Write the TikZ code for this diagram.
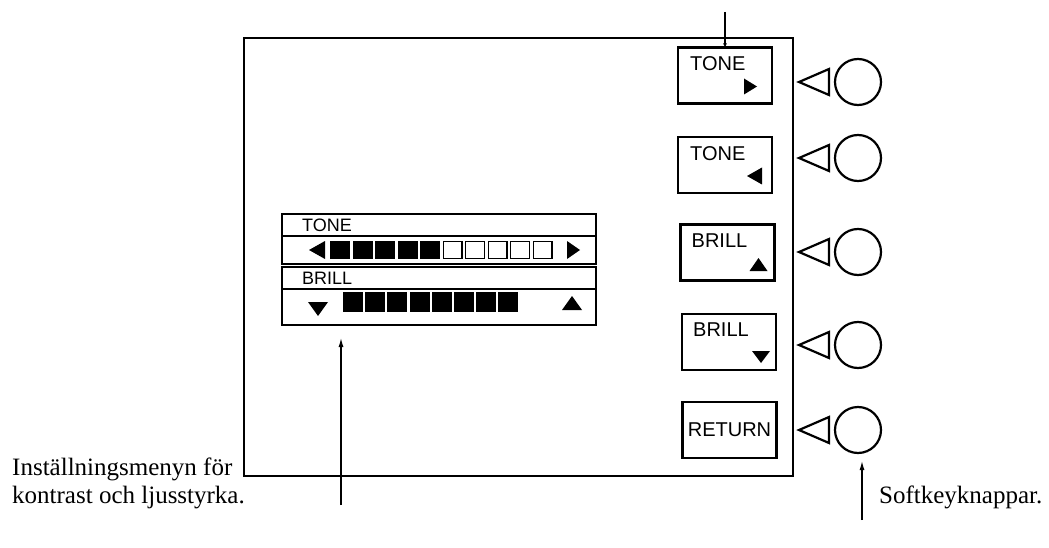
\documentclass[tikz,border=0pt]{standalone}
\usepackage{fontspec}
\setmainfont{Liberation Serif}
\setsansfont{Liberation Sans}
\usepackage{tikz}
\usetikzlibrary{
  arrows.meta,
  positioning
}
\tikzset{
    frameline/.style={line width=2.8pt},
    softkey/.style={draw, line width=2.8pt, minimum width=94pt, minimum height=56pt, inner sep=0pt, outer sep=0pt},
    keylabel/.style={font=\sffamily\fontsize{20}{22}\selectfont, inner sep=0pt, anchor=north west},
    knob/.style={draw, circle, line width=2.2pt, minimum size=46pt, inner sep=0pt, outer sep=0pt},
    menurow/.style={draw, line width=2.2pt, minimum width=314pt, inner sep=0pt, outer sep=0pt},
    menulabel/.style={font=\sffamily\fontsize{18}{20}\selectfont, inner sep=0pt, anchor=west},
    pointer/.style={line width=1.2pt, -{Latex[length=9pt,width=5pt]}},
    caption/.style={font=\fontsize{25}{28}\selectfont, inner sep=0pt, align=left}
}

\begin{document}
\begin{tikzpicture}[x=1pt, y=-1pt]
            \useasboundingbox (0,0) rectangle (1049,548);
            % screen frame
            \node[draw, frameline, minimum width=549pt, minimum height=438pt, inner sep=0pt] (screen) at (518.5,257) {};

            % softkey labels on the screen
            \node[softkey] (toneup) at (725,75.5) {};
            \node[softkey] (tonedown) at (725,165) {};
            \node[softkey] (brillup) at (727.5,252.5) {};
            \node[softkey] (brilldown) at (729,342) {};
            \node[softkey, font=\sffamily\fontsize{20}{22}\selectfont] (return) at (729.5,430) {RETURN};
            \node[keylabel] at ([shift={(12,9)}]toneup.north west) {TONE};
            \node[keylabel] at ([shift={(12,9)}]tonedown.north west) {TONE};
            \node[keylabel] at ([shift={(11,9)}]brillup.north west) {BRILL};
            \node[keylabel] at ([shift={(11,9)}]brilldown.north west) {BRILL};
            \fill ([shift={(-28,-25)}]toneup.south east) -- ++(13,8) -- ++(-13,8) -- cycle;
            \fill ([shift={(-25,-17)}]tonedown.south east) -- ++(15,-8.5) -- ++(0,17) -- cycle;
            \fill ([shift={(-25,-9.5)}]brillup.south east) -- ++(18,0) -- ++(-9,-13) -- cycle;
            \fill ([shift={(-24,-19)}]brilldown.south east) -- ++(18,0) -- ++(-9,12) -- cycle;

            % softkey buttons
            \foreach \y [count=\i] in {82,158,252,345,430} {
                \node[knob] (knob\i) at (858,\y) {};
                \draw[line width=2.2pt, line join=miter] ([shift={(-6,-13)}]knob\i.west) -- ++(-30,13) -- ++(30,13) -- cycle;
            }

            % menu for contrast and brightness
            \node[menurow, minimum height=22pt, anchor=north west] (tonehead) at (282,214) {};
            \node[menurow, minimum height=28pt, below=0pt of tonehead] (tonebar) {};
            \node[menurow, minimum height=22pt, below=3pt of tonebar] (brillhead) {};
            \node[menurow, minimum height=36pt, below=0pt of brillhead] (brillbar) {};
            \node[menulabel] at ([xshift=20]tonehead.west) {TONE};
            \node[menulabel] at ([xshift=20]brillhead.west) {BRILL};

            \fill ([xshift=27]tonebar.west) -- ++(16,-9) -- ++(0,18) -- cycle;
            \foreach \i in {0,...,4}
                \fill ([shift={({48+22.5*\i},-9)}]tonebar.west) rectangle ++(20,18);
            \foreach \i in {5,...,9}
                \draw[line width=1.2pt] ([shift={({48.6+22.5*\i},-8.4)}]tonebar.west) rectangle ++(18.8,16.8);
            \fill ([xshift=-16]tonebar.east) -- ++(-13,-9) -- ++(0,18) -- cycle;

            \fill ([shift={(26,-5)}]brillbar.west) -- ++(20,0) -- ++(-10,14) -- cycle;
            \foreach \i in {0,...,7}
                \fill ([shift={({61+22.2*\i},-15)}]brillbar.west) rectangle ++(20,20);
            \fill ([shift={(-34,3)}]brillbar.east) -- ++(20,0) -- ++(-10,-14) -- cycle;

            % pointers
            \coordinate (toptail) at (725,12);
            \coordinate (menutail) at (341,505);
            \coordinate (knobtail) at (862,520);
            \draw[line width=1.2pt, -{Latex[length=4pt,width=4pt]}] (toptail) -- (toneup.north);
            \draw[pointer, shorten >=13pt] (menutail) -- (menutail |- brillbar.south);
            \draw[pointer, shorten >=8pt] (knobtail) -- (knobtail |- knob5.south);

            % captions
            \node[caption, anchor=north west] (menutext) at (12,458) {Inställningsmenyn för\\kontrast och ljusstyrka.};
            \node[caption, anchor=base west] (knobtext) at (879,503) {Softkeyknappar.};
        \end{tikzpicture}
\end{document}
